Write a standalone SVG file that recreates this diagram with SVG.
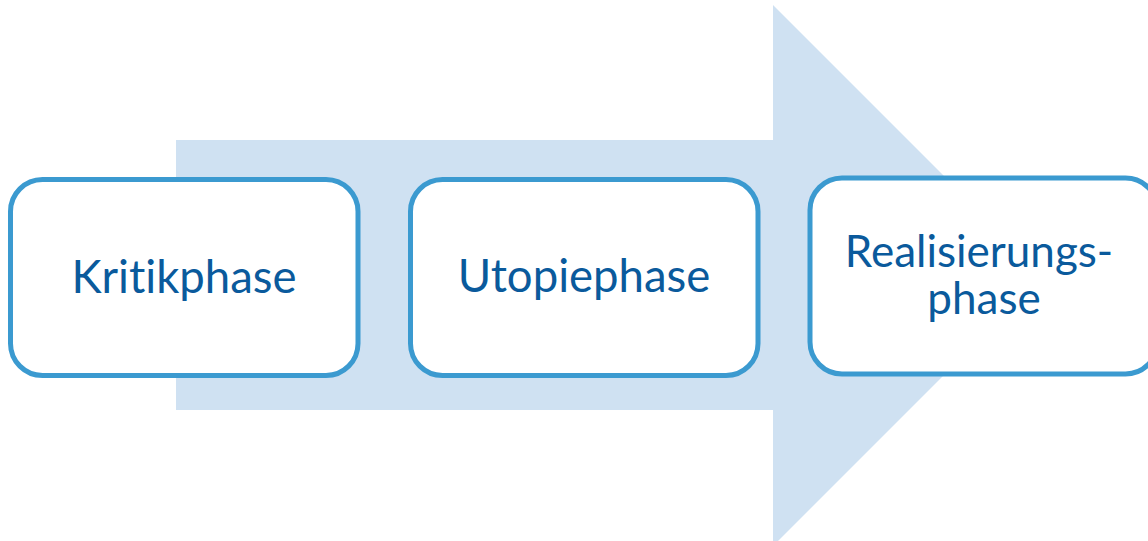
<svg xmlns="http://www.w3.org/2000/svg" width="1148" height="541" viewBox="0 0 1148 541">
<style>
.box{fill:#ffffff;stroke:#3b9ad0;stroke-width:5}
.lbl{font-family:Lato,"Liberation Sans",sans-serif;font-size:45.5px;fill:#0a5a9c;text-anchor:middle;font-variant-ligatures:none;font-feature-settings:"liga" 0,"clig" 0}
.sm{font-size:44px}
</style>
<rect width="1148" height="541" fill="#ffffff"/>
<g id="arrow">
<polygon points="176,140 773,140 773,5 1043.5,275.5 773,546 773,410 176,410" fill="#cfe1f2"/>
</g>
<g id="connectors"></g>
<g id="node1">
<rect class="box" x="10.5" y="179.5" width="347.5" height="196" rx="32"/>
<text class="lbl" x="184" y="293">Kritikphase</text>
</g>
<g id="node2">
<rect class="box" x="410.5" y="179.5" width="347.5" height="196" rx="32"/>
<text class="lbl" x="584" y="292">Utopiephase</text>
</g>
<g id="node3">
<rect class="box" x="810" y="178" width="347.5" height="196" rx="32"/>
<text class="lbl sm" x="979" y="267">Realisierungs-</text>
<text class="lbl sm" x="984" y="314">phase</text>
</g>
</svg>
